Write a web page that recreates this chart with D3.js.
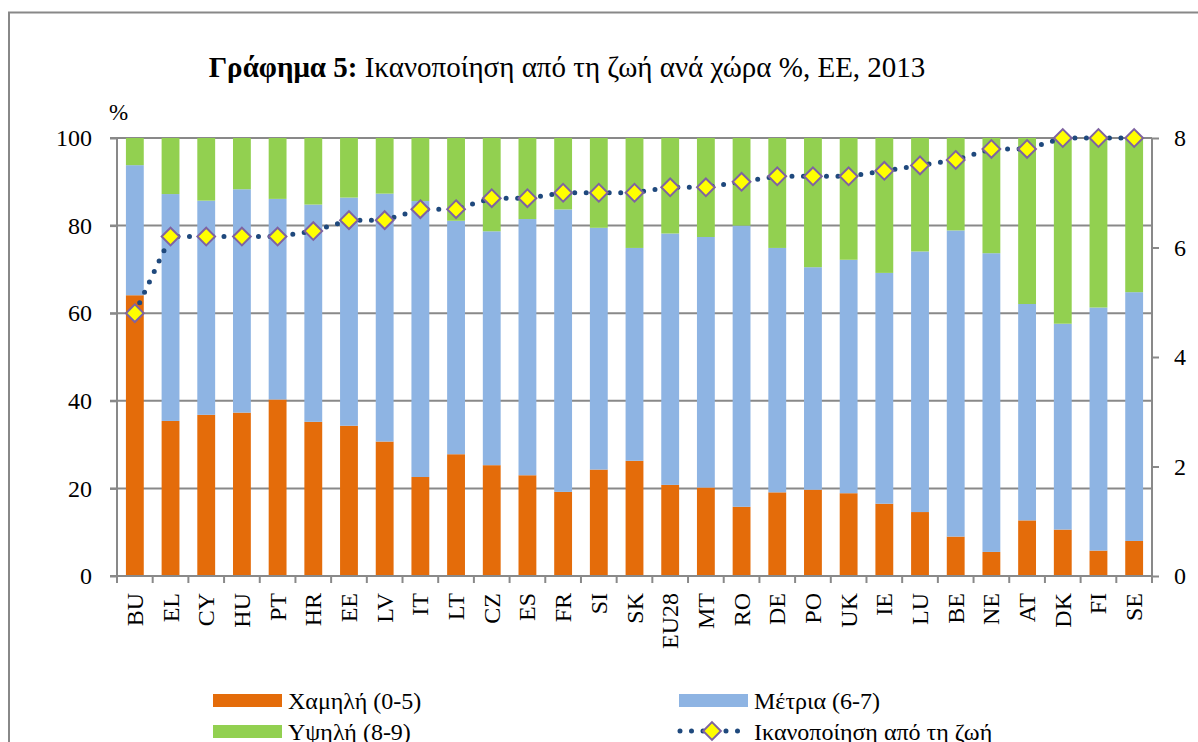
<!DOCTYPE html>
<html>
<head>
<meta charset="utf-8">
<script src="https://cdn.jsdelivr.net/npm/d3@7"></script>
<style>
  body { margin: 0; background: #fff; }
  svg text { font-family: "Liberation Serif", "Times New Roman", "DejaVu Serif", serif; }
</style>
</head>
<body>
<div id="chart"></div>
<script>
// categories (countries)
var countries = ['BU', 'EL', 'CY', 'HU', 'PT', 'HR', 'EE', 'LV', 'IT', 'LT', 'CZ', 'ES', 'FR', 'SI', 'SK',
  'EU28', 'MT', 'RO', 'DE', 'PO', 'UK', 'IE', 'LU', 'BE', 'NE', 'AT', 'DK', 'FI', 'SE'];

// % low satisfaction (0-5)
var lowValues = [64.1, 35.4, 36.8, 37.3, 40.3, 35.2, 34.3, 30.7, 22.6, 27.8, 25.3, 23.0, 19.2, 24.3, 26.3,
  20.8, 20.2, 15.8, 19.1, 19.7, 18.9, 16.5, 14.6, 9.0, 5.5, 12.7, 10.6, 5.8, 8.0];

// % medium satisfaction (6-7)
var mediumValues = [29.7, 51.8, 48.9, 51.0, 45.8, 49.6, 52.1, 56.6, 63.0, 53.3, 53.4, 58.5, 64.5, 55.2, 48.6,
  57.4, 57.2, 64.2, 55.8, 50.8, 53.3, 52.7, 59.5, 69.9, 68.2, 49.4, 47.0, 55.5, 56.8];

// % high satisfaction (8-9)
var highValues = [6.2, 12.8, 14.3, 11.7, 13.9, 15.2, 13.6, 12.7, 14.4, 18.9, 21.3, 18.5, 16.3, 20.5, 25.1,
  21.8, 22.6, 20.0, 25.1, 29.5, 27.8, 30.8, 25.9, 21.1, 26.3, 37.9, 42.4, 38.7, 35.2];

// mean life satisfaction (right axis)
var satisfaction = [4.8, 6.2, 6.2, 6.2, 6.2, 6.3, 6.5, 6.5, 6.7, 6.7, 6.9, 6.9, 7.0, 7.0, 7.0,
  7.1, 7.1, 7.2, 7.3, 7.3, 7.3, 7.4, 7.5, 7.6, 7.8, 7.8, 8.0, 8.0, 8.0];

var leftTicks = [0, 20, 40, 60, 80, 100];
var rightTicks = [0, 2, 4, 6, 8];

var seriesNames = ['Χαμηλή (0-5)', 'Μέτρια (6-7)', 'Υψηλή (8-9)'];
var lineName = 'Ικανοποίηση από τη ζωή';

var attrs = {
  width: 1198,
  height: 742,
  left: 117,
  right: 1152,
  top: 138,
  bottom: 576,
  colors: ['#E46C0A', '#8EB4E3', '#92D050'],
  gridColor: '#898989',
  lineColor: '#1F497D',
  fontFamily: '"Liberation Serif", "Times New Roman", "DejaVu Serif", serif'
};

var svg = d3.select('#chart').append('svg')
  .attr('width', attrs.width)
  .attr('height', attrs.height)
  .style('display', 'block');

// outer frame
svg.append('rect')
  .attr('x', 9).attr('y', 12.5)
  .attr('width', attrs.width + 20).attr('height', attrs.height + 20)
  .attr('fill', 'none')
  .attr('stroke', '#888')
  .attr('stroke-width', 2);

// title
var title = svg.append('text')
  .attr('x', 567)
  .attr('y', 77)
  .attr('text-anchor', 'middle')
  .attr('font-size', 29)
  .attr('fill', '#000');
title.append('tspan').attr('font-weight', 'bold').text('Γράφημα 5:');
title.append('tspan').text(' Ικανοποίηση από τη ζωή ανά χώρα %, ΕΕ, 2013');

// scales
var x = d3.scaleBand()
  .domain(countries)
  .range([attrs.left, attrs.right])
  .paddingInner(0.5)
  .paddingOuter(0.25);

var y = d3.scaleLinear().domain([0, 100]).range([attrs.bottom, attrs.top]);
var y2 = d3.scaleLinear().domain([0, 8]).range([attrs.bottom, attrs.top]);

// gridlines
svg.append('g')
  .selectAll('line')
  .data(leftTicks)
  .join('line')
  .attr('x1', attrs.left - 7)
  .attr('x2', attrs.right)
  .attr('y1', d => y(d))
  .attr('y2', d => y(d))
  .attr('stroke', attrs.gridColor)
  .attr('stroke-width', 2);

// stacked bars
var table = countries.map((c, i) => ({
  country: c,
  low: lowValues[i],
  medium: mediumValues[i],
  high: highValues[i]
}));

var stack = d3.stack().keys(['low', 'medium', 'high'])(table);

svg.append('g')
  .selectAll('g')
  .data(stack)
  .join('g')
  .attr('fill', (d, i) => attrs.colors[i])
  .selectAll('rect')
  .data(d => d)
  .join('rect')
  .attr('x', d => x(d.data.country))
  .attr('y', d => y(Math.min(100, d[1])))
  .attr('width', x.bandwidth())
  .attr('height', d => y(d[0]) - y(Math.min(100, d[1])));

// left axis
var leftAxis = svg.append('g')
  .attr('transform', `translate(${attrs.left},0)`)
  .call(d3.axisLeft(y).tickValues(leftTicks).tickSize(7).tickPadding(18));

// right axis
var rightAxis = svg.append('g')
  .attr('transform', `translate(${attrs.right},0)`)
  .call(d3.axisRight(y2).tickValues(rightTicks).tickSize(7).tickPadding(15));

// bottom axis: ticks at band boundaries
var bottomAxis = svg.append('g')
  .attr('transform', `translate(0,${attrs.bottom})`);

bottomAxis.append('line')
  .attr('x1', attrs.left).attr('x2', attrs.right)
  .attr('stroke', attrs.gridColor).attr('stroke-width', 2);

bottomAxis.selectAll('line.tick')
  .data(countries.concat(['end']))
  .join('line')
  .attr('class', 'tick')
  .attr('x1', (d, i) => attrs.left + i * x.step())
  .attr('x2', (d, i) => attrs.left + i * x.step())
  .attr('y1', 0).attr('y2', 7)
  .attr('stroke', attrs.gridColor).attr('stroke-width', 2);

bottomAxis.selectAll('text')
  .data(countries)
  .join('text')
  .attr('transform', d => `translate(${x(d) + x.bandwidth() / 2 + 8},17) rotate(-90)`)
  .attr('text-anchor', 'end')
  .attr('font-size', 24)
  .attr('fill', '#000')
  .text(d => d);

[leftAxis, rightAxis].forEach(function (ax) {
  ax.attr('font-family', attrs.fontFamily).attr('font-size', 24);
  ax.select('.domain').attr('stroke', attrs.gridColor).attr('stroke-width', 2);
  ax.selectAll('.tick line').attr('stroke', attrs.gridColor).attr('stroke-width', 2);
  ax.selectAll('.tick text')
    .attr('font-size', 24)
    .attr('fill', '#000');
});
leftAxis.select('.domain').attr('d', `M0,${attrs.top}V${attrs.bottom}`);
rightAxis.select('.domain').attr('d', `M0,${attrs.top}V${attrs.bottom}`);

// % unit label
svg.append('text')
  .attr('x', 109)
  .attr('y', 120)
  .attr('font-size', 23)
  .text('%');

// satisfaction line
var line = d3.line()
  .x((d, i) => x(countries[i]) + x.bandwidth() / 2)
  .y(d => y2(d));

svg.append('path')
  .datum(satisfaction)
  .attr('d', line)
  .attr('fill', 'none')
  .attr('stroke', attrs.lineColor)
  .attr('stroke-width', 5)
  .attr('stroke-linecap', 'round')
  .attr('stroke-dasharray', '0 11.5');

var diamond = d3.symbol().type(d3.symbolDiamond2).size(200);

svg.append('g')
  .selectAll('path')
  .data(satisfaction)
  .join('path')
  .attr('transform', (d, i) => `translate(${x(countries[i]) + x.bandwidth() / 2},${y2(d)})`)
  .attr('d', diamond)
  .attr('fill', '#FFFF00')
  .attr('stroke', '#7F63A1')
  .attr('stroke-width', 2);

// legend
var legendItems = [
  { name: seriesNames[0], color: attrs.colors[0], x: 213, y: 694 },
  { name: seriesNames[1], color: attrs.colors[1], x: 679, y: 694 },
  { name: seriesNames[2], color: attrs.colors[2], x: 213, y: 725 }
];

var legend = svg.append('g').attr('font-size', 24);

legend.selectAll('rect')
  .data(legendItems)
  .join('rect')
  .attr('x', d => d.x).attr('y', d => d.y)
  .attr('width', 69).attr('height', 13)
  .attr('fill', d => d.color);

legend.selectAll('text.item')
  .data(legendItems)
  .join('text')
  .attr('class', 'item')
  .attr('x', d => d.x + 75)
  .attr('y', d => d.y + 15)
  .text(d => d.name);

// line legend
legend.append('line')
  .attr('x1', 680).attr('x2', 745)
  .attr('y1', 731).attr('y2', 731)
  .attr('stroke', attrs.lineColor)
  .attr('stroke-width', 5)
  .attr('stroke-linecap', 'round')
  .attr('stroke-dasharray', '0 11.5');

legend.append('path')
  .attr('transform', 'translate(712,731)')
  .attr('d', diamond)
  .attr('fill', '#FFFF00')
  .attr('stroke', '#7F63A1')
  .attr('stroke-width', 2);

legend.append('text')
  .attr('x', 754)
  .attr('y', 740)
  .text(lineName);
</script>
</body>
</html>
